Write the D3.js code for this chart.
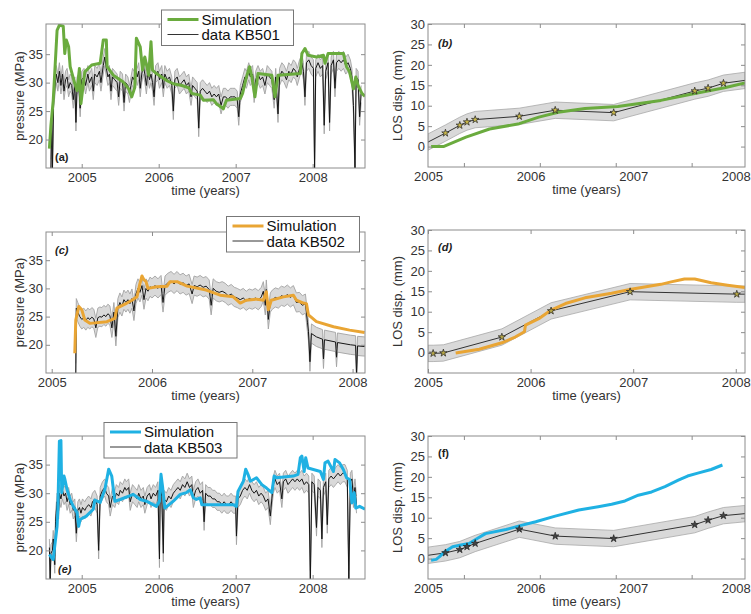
<!DOCTYPE html>
<html>
<head>
<meta charset="utf-8">
<script src="https://cdn.jsdelivr.net/npm/d3@7"></script>
<style>
  body { margin: 0; background: #fff; }
  svg { display: block; font-family: "Liberation Sans", Arial, sans-serif; }
</style>
</head>
<body>
<svg id="fig" width="751" height="614"></svg>
<script>
// ---- data ----
const yearTicks = [2005, 2006, 2007, 2008];
const pressureTicks = [20, 25, 30, 35];
const losTicks = [0, 5, 10, 15, 20, 25, 30];
// panels (b) and (f) have their tick marks away from the year labels
const losMarksBF = [2005.35, 2006.09, 2006.83, 2007.57];

// KB501 well pressure (MPa), [year, value]
const simA = [[2004.58,18.4],[2004.60,22.5],[2004.63,26.9],[2004.68,39.2],[2004.71,40.1],[2004.76,39.9],[2004.78,35.1],[2004.80,37.5],[2004.83,36.3],[2004.85,32.8],[2004.91,29.8],[2004.94,28.6],[2004.97,32.5],[2004.99,26.3],[2005.04,31.9],[2005.13,33.1],[2005.24,33.4],[2005.28,37.5],[2005.32,37.5],[2005.33,32.8],[2005.41,31.3],[2005.54,30.1],[2005.61,28.9],[2005.65,27.5],[2005.69,29.2],[2005.71,37.8],[2005.76,36.3],[2005.79,32.2],[2005.82,34.5],[2005.87,31.3],[2005.90,37.2],[2005.92,32.2],[2005.97,31.6],[2006.10,30.4],[2006.19,29.8],[2006.30,29.5],[2006.39,29.1],[2006.43,28.1],[2006.54,27.8],[2006.58,26.9],[2006.71,27.0],[2006.75,26.3],[2006.84,25.4],[2006.88,26.9],[2007.06,27.2],[2007.09,28.1],[2007.14,31.0],[2007.18,32.8],[2007.21,31.0],[2007.25,27.5],[2007.29,31.6],[2007.47,31.3],[2007.51,27.5],[2007.55,31.3],[2007.84,31.6],[2007.86,35.1],[2007.90,36.0],[2007.94,34.8],[2008.05,34.5],[2008.14,34.8],[2008.16,33.4],[2008.20,35.1],[2008.40,35.1],[2008.44,32.8],[2008.48,31.9],[2008.51,30.1],[2008.53,28.9],[2008.56,31.0],[2008.59,29.5],[2008.64,28.1],[2008.68,27.6]];
const dataA = [[2004.60,15],[2004.61,24],[2004.62,15],[2004.635,27],[2004.65,29],[2004.67,31.5],[2004.69,30],[2004.71,32],[2004.73,29.5],[2004.75,31.5],[2004.77,28.5],[2004.79,30.5],[2004.81,31],[2004.83,29],[2004.85,30],[2004.87,29.5],[2004.89,27],[2004.91,29.5],[2004.925,23],[2004.94,29.5],[2004.96,30],[2004.98,25.5],[2005.00,30.5],[2005.03,31],[2005.05,29.5],[2005.08,31.5],[2005.10,30],[2005.13,31],[2005.15,28.5],[2005.17,31.5],[2005.20,31],[2005.23,32],[2005.25,30],[2005.28,33],[2005.30,34.5],[2005.32,32.5],[2005.34,31],[2005.36,31.5],[2005.38,28.5],[2005.40,31],[2005.43,30.5],[2005.46,30],[2005.48,27.5],[2005.50,30.5],[2005.53,30],[2005.55,26.5],[2005.57,30],[2005.60,29.5],[2005.62,28],[2005.64,29.5],[2005.66,31],[2005.68,30.5],[2005.70,32.5],[2005.72,31],[2005.74,32],[2005.76,29],[2005.78,31.5],[2005.80,33],[2005.82,31.5],[2005.84,29.5],[2005.86,32],[2005.88,30.5],[2005.90,31.5],[2005.92,30],[2005.94,27.5],[2005.96,31.5],[2005.99,32],[2006.01,30.5],[2006.04,31.5],[2006.06,29],[2006.08,31.5],[2006.11,30.5],[2006.14,31],[2006.17,29.5],[2006.19,25],[2006.21,30.5],[2006.24,31],[2006.27,29.5],[2006.30,30],[2006.33,30.5],[2006.36,29.5],[2006.39,30],[2006.42,27.5],[2006.44,29.5],[2006.47,29],[2006.50,28.5],[2006.52,22],[2006.54,28.5],[2006.57,29],[2006.60,28.5],[2006.63,28],[2006.66,28.5],[2006.69,27.5],[2006.72,28],[2006.75,27.5],[2006.78,28],[2006.81,26],[2006.84,27.5],[2006.87,27.5],[2006.90,27],[2006.93,27.5],[2006.96,27.5],[2006.99,27.5],[2007.02,27],[2007.04,24],[2007.06,28],[2007.09,29.5],[2007.12,31],[2007.14,30.5],[2007.17,32],[2007.19,31],[2007.22,31.5],[2007.24,28],[2007.26,30.5],[2007.29,31.5],[2007.32,30.5],[2007.35,31],[2007.38,29.5],[2007.41,31.5],[2007.44,31],[2007.47,30.5],[2007.50,27],[2007.52,31],[2007.55,24.5],[2007.57,31],[2007.60,32],[2007.63,31.5],[2007.66,30.5],[2007.69,32],[2007.72,31.5],[2007.75,32.5],[2007.78,32],[2007.80,31],[2007.83,32.5],[2007.86,33.5],[2007.88,32],[2007.90,27.5],[2007.92,33.5],[2007.95,34],[2007.98,33],[2008.01,32.5],[2008.025,15],[2008.04,32.5],[2008.07,33.5],[2008.10,32.5],[2008.13,33],[2008.15,22.5],[2008.17,32],[2008.20,33.5],[2008.22,23],[2008.24,33],[2008.27,34],[2008.29,29],[2008.31,33.5],[2008.34,34],[2008.37,33.5],[2008.40,34],[2008.43,33],[2008.46,33.5],[2008.49,32.5],[2008.51,31],[2008.53,26],[2008.55,15],[2008.565,31],[2008.59,30.5],[2008.61,24],[2008.63,28]];
const errA = 1.5;

// KB502 well pressure (MPa)
const simC = [[2005.23,18.5],[2005.24,24.4],[2005.27,26.8],[2005.30,26.2],[2005.33,24.4],[2005.38,23.8],[2005.55,24.1],[2005.63,24.7],[2005.65,26.5],[2005.75,27.4],[2005.80,27.9],[2005.85,28.5],[2005.88,30.9],[2005.90,32.2],[2005.92,31.5],[2005.94,31.2],[2005.96,30.0],[2006.05,30.3],[2006.15,30.4],[2006.18,31.2],[2006.25,31.2],[2006.35,30.4],[2006.54,29.7],[2006.68,28.8],[2006.81,28.5],[2006.88,27.4],[2006.94,27.9],[2007.04,28.1],[2007.11,27.9],[2007.14,29.4],[2007.16,26.2],[2007.19,27.9],[2007.31,28.5],[2007.41,28.8],[2007.44,27.9],[2007.51,27.4],[2007.54,27.3],[2007.56,25.3],[2007.64,24.1],[2007.81,23.2],[2007.97,22.6],[2008.12,22.2]];
const dataC = [[2005.24,15],[2005.245,26.5],[2005.26,25.8],[2005.28,25],[2005.30,24.5],[2005.32,24.8],[2005.34,24.3],[2005.36,24.8],[2005.38,24.5],[2005.40,24.9],[2005.42,24.6],[2005.44,23],[2005.46,24.8],[2005.48,25],[2005.50,24.9],[2005.52,25.3],[2005.54,25],[2005.56,25.5],[2005.58,25.2],[2005.60,23],[2005.62,25.8],[2005.64,21.5],[2005.66,26.5],[2005.68,27.5],[2005.70,26.8],[2005.72,28],[2005.74,27.5],[2005.76,28],[2005.78,27.3],[2005.80,28.2],[2005.82,26],[2005.84,29],[2005.86,30],[2005.88,29.3],[2005.90,30.5],[2005.92,28],[2005.94,30],[2005.96,29.5],[2005.98,30.3],[2006.00,30],[2006.03,30.5],[2006.06,30],[2006.09,30.6],[2006.11,27.5],[2006.13,30.5],[2006.16,31],[2006.19,31.3],[2006.22,30.8],[2006.25,31.3],[2006.28,30.7],[2006.31,31],[2006.34,30.5],[2006.37,30.8],[2006.40,29],[2006.42,30.5],[2006.45,30.3],[2006.48,30.6],[2006.51,30.2],[2006.54,30.4],[2006.57,29.8],[2006.59,27],[2006.61,30],[2006.64,29.5],[2006.67,29.3],[2006.70,29.5],[2006.73,29.2],[2006.76,28.7],[2006.79,29],[2006.82,28.5],[2006.85,28.3],[2006.88,28],[2006.91,28.3],[2006.94,27.8],[2006.97,28.2],[2007.00,28],[2007.03,28.3],[2007.06,27.9],[2007.09,28.5],[2007.11,29.5],[2007.13,27],[2007.14,29.8],[2007.16,24.5],[2007.18,27.5],[2007.20,28],[2007.23,28.4],[2007.26,28.2],[2007.29,28.7],[2007.32,28.5],[2007.35,28.9],[2007.38,28.4],[2007.41,28.8],[2007.44,27.5],[2007.47,27.6],[2007.50,27],[2007.53,27.3],[2007.55,24],[2007.56,22.4],[2007.575,17],[2007.59,22],[2007.64,21.4],[2007.70,21],[2007.71,17.5],[2007.72,20.9],[2007.83,20.5],[2007.84,17.8],[2007.85,20.4],[2007.98,20],[2008.03,19.9],[2008.04,15],[2008.05,19.8],[2008.12,19.7]];
const errC = 1.7;

// KB503 well pressure (MPa)
const simE = [[2004.58,19.3],[2004.61,18.7],[2004.63,18.4],[2004.65,20.8],[2004.68,24.2],[2004.69,27.2],[2004.71,39.1],[2004.73,39.2],[2004.74,30.1],[2004.77,33.0],[2004.78,32.5],[2004.81,30.6],[2004.85,28.9],[2004.89,27.7],[2004.94,26.6],[2004.96,24.2],[2004.98,25.4],[2005.06,26.0],[2005.15,27.2],[2005.17,28.8],[2005.24,28.4],[2005.30,30.6],[2005.35,34.2],[2005.39,33.0],[2005.43,28.6],[2005.50,28.9],[2005.67,29.8],[2005.76,28.9],[2005.84,28.6],[2005.97,27.7],[2006.01,28.6],[2006.03,33.3],[2006.05,31.2],[2006.08,27.4],[2006.19,28.6],[2006.28,29.8],[2006.36,30.1],[2006.41,30.6],[2006.45,29.2],[2006.49,28.9],[2006.54,29.2],[2006.56,28.0],[2006.62,28.0],[2006.97,28.0],[2007.01,27.7],[2007.03,30.3],[2007.10,32.1],[2007.13,34.2],[2007.16,33.3],[2007.19,32.1],[2007.27,32.7],[2007.34,31.5],[2007.40,30.9],[2007.47,30.1],[2007.50,33.0],[2007.53,32.7],[2007.75,33.0],[2007.81,33.3],[2007.84,36.2],[2007.86,36.5],[2007.89,33.8],[2007.91,36.2],[2007.94,34.4],[2008.10,33.8],[2008.14,32.4],[2008.16,35.3],[2008.20,35.6],[2008.27,33.8],[2008.29,35.9],[2008.35,35.3],[2008.40,34.1],[2008.44,32.7],[2008.48,32.4],[2008.51,28.3],[2008.54,30.1],[2008.56,27.4],[2008.61,27.7],[2008.68,27.2]];
const dataE = [[2004.58,20.5],[2004.59,15],[2004.60,19.5],[2004.62,20],[2004.63,22],[2004.65,17.5],[2004.66,25],[2004.68,28.5],[2004.70,27],[2004.71,30],[2004.73,29],[2004.75,30.5],[2004.77,29.5],[2004.79,30],[2004.81,28.5],[2004.83,29.5],[2004.85,28],[2004.87,28.5],[2004.89,27],[2004.91,27.5],[2004.93,23],[2004.95,27],[2004.97,27.5],[2004.99,26.5],[2005.01,27.5],[2005.04,27],[2005.06,27.5],[2005.09,28],[2005.12,27.5],[2005.14,28.5],[2005.17,29],[2005.20,28],[2005.22,20],[2005.24,29.5],[2005.27,30.5],[2005.30,31],[2005.32,30],[2005.35,29.5],[2005.37,27.5],[2005.40,29.5],[2005.43,29],[2005.45,30],[2005.48,29.5],[2005.50,30.5],[2005.53,30],[2005.56,31],[2005.58,30.5],[2005.61,31],[2005.63,28.5],[2005.66,30],[2005.69,29.5],[2005.72,29],[2005.74,30],[2005.77,29],[2005.80,29.5],[2005.82,28],[2005.85,29.5],[2005.88,30],[2005.90,29],[2005.93,30],[2005.96,29.5],[2005.99,30.5],[2006.01,18.5],[2006.02,31],[2006.04,29.5],[2006.06,19.5],[2006.07,29],[2006.10,28.5],[2006.13,29.5],[2006.16,29],[2006.19,30],[2006.22,30.5],[2006.25,31],[2006.28,30.5],[2006.31,31.5],[2006.34,31],[2006.37,32],[2006.40,31],[2006.43,31.5],[2006.45,29],[2006.48,30.5],[2006.51,31],[2006.54,30],[2006.57,30.5],[2006.59,25],[2006.61,30],[2006.64,29.5],[2006.67,29.5],[2006.70,29],[2006.73,29],[2006.76,28.5],[2006.79,28.5],[2006.82,28],[2006.85,28.5],[2006.88,28],[2006.91,28],[2006.94,28.5],[2006.97,28],[2007.00,28],[2007.01,22.5],[2007.03,29],[2007.06,29.5],[2007.09,30.5],[2007.12,31],[2007.15,30.5],[2007.18,31.5],[2007.21,30.5],[2007.24,30],[2007.27,30.5],[2007.30,29.5],[2007.33,30],[2007.36,29.5],[2007.39,28.5],[2007.42,29],[2007.45,26],[2007.47,29],[2007.49,31.5],[2007.51,32.5],[2007.54,31.5],[2007.57,32],[2007.60,29],[2007.62,32],[2007.65,32.5],[2007.68,31.5],[2007.71,32],[2007.74,32.5],[2007.77,32],[2007.80,32.5],[2007.83,32],[2007.86,32.5],[2007.89,31.5],[2007.92,32],[2007.95,31.5],[2007.97,15],[2007.99,32],[2008.02,31.5],[2008.05,24],[2008.07,31],[2008.10,30.5],[2008.12,22],[2008.14,31],[2008.17,32],[2008.19,24.5],[2008.21,32.5],[2008.24,33],[2008.27,32.5],[2008.30,33],[2008.33,33.5],[2008.36,33],[2008.39,33.5],[2008.42,33.5],[2008.45,32.5],[2008.47,15],[2008.49,32],[2008.51,32.5],[2008.53,29],[2008.55,31],[2008.57,28]];
const errE = 1.5;

// InSAR LOS displacement (mm): [year, value, star marker 1/0]
const losObsB = [[2005.00,1.1,0],[2005.17,3.3,1],[2005.31,5.2,1],[2005.38,6.0,1],[2005.46,6.6,1],[2005.89,7.4,1],[2006.24,8.9,1],[2006.81,8.3,1],[2007.60,13.6,1],[2007.73,14.3,1],[2007.88,15.5,1],[2008.09,16.2,0]];
const losSimB = [[2005.03,0],[2005.15,0],[2005.37,2.3],[2005.60,4.3],[2005.89,5.6],[2006.08,7.2],[2006.27,8.4],[2006.53,9.3],[2006.85,9.8],[2007.27,11.3],[2007.60,13.0],[2007.89,14.4],[2008.09,15.6]];
const losObsD = [[2005.00,-0.2,0],[2005.05,-0.2,1],[2005.15,-0.1,1],[2005.72,3.8,1],[2006.20,10.2,1],[2006.97,14.9,1],[2008.01,14.3,1],[2008.09,14.3,0]];
const losSimD = [[2005.27,-0.1],[2005.50,0.8],[2005.72,2.4],[2005.85,3.8],[2005.94,5.1],[2005.95,6.7],[2006.08,8.3],[2006.20,10.4],[2006.34,12.0],[2006.53,13.4],[2006.79,14.5],[2006.98,15.5],[2007.27,16.7],[2007.37,17.3],[2007.50,18.0],[2007.60,18.0],[2007.76,17.1],[2007.92,16.5],[2008.09,15.9]];
const losObsF = [[2005.00,0.8,0],[2005.17,1.4,1],[2005.31,2.2,1],[2005.38,2.9,1],[2005.46,3.7,1],[2005.89,7.2,1],[2006.24,5.5,1],[2006.81,4.9,1],[2007.60,8.3,1],[2007.73,9.4,1],[2007.88,10.5,1],[2008.09,11.0,0]];
const losSimF = [[2005.03,-0.4],[2005.08,-0.2],[2005.11,0.4],[2005.16,1.6],[2005.24,2.9],[2005.32,3.3],[2005.40,3.7],[2005.48,4.9],[2005.56,6.1],[2005.76,7.1],[2005.89,8.0],[2006.05,9.0],[2006.24,10.4],[2006.47,11.9],[2006.66,12.7],[2006.79,13.3],[2006.92,14.1],[2007.05,15.5],[2007.18,16.3],[2007.31,17.6],[2007.44,19.2],[2007.53,20.2],[2007.63,20.9],[2007.76,21.8],[2007.87,22.9]];
const losErr = 2;

const colors = { green: '#6aab3e', orange: '#e9a534', cyan: '#1fb1e3' };

// ---- drawing ----
const svg = d3.select('#fig');
const AXIS = '#8c8c8c';
const TEXT = '#333';

function frame(g, p, x, y, opts) {
  const w = p.right - p.left;
  const h = p.bottom - p.top;

  g.append('g').attr('transform', `translate(0,${h})`)
    .call(d3.axisBottom(x).tickValues(yearTicks).tickFormat(d3.format('d'))
      .tickSizeInner(opts.xMarks ? 0 : -4).tickSizeOuter(0).tickPadding(5));
  g.append('g')
    .call(d3.axisTop(x).tickValues(opts.xMarks || yearTicks).tickFormat('')
      .tickSizeInner(-4).tickSizeOuter(0));
  if (opts.xMarks) {
    g.append('g').attr('transform', `translate(0,${h})`)
      .call(d3.axisBottom(x).tickValues(opts.xMarks).tickFormat('')
        .tickSizeInner(-4).tickSizeOuter(0));
  }
  g.append('g')
    .call(d3.axisLeft(y).tickValues(opts.yTicks).tickSizeInner(-4).tickSizeOuter(0).tickPadding(3));
  g.append('g').attr('transform', `translate(${w},0)`)
    .call(d3.axisRight(y).tickValues(opts.yTicks).tickFormat('').tickSizeInner(-4).tickSizeOuter(0));

  // let the axes use the page font
  g.selectAll('g').attr('font-family', null).attr('font-size', null);
  g.selectAll('.domain').remove();
  g.selectAll('.tick line').attr('stroke', AXIS);
  g.selectAll('.tick text').attr('fill', TEXT).style('font-size', '13px');

  g.append('rect').attr('width', w).attr('height', h)
    .attr('fill', 'none').attr('stroke', AXIS).attr('stroke-width', 1);

  g.append('text')
    .attr('x', w / 2).attr('y', h + 27)
    .attr('text-anchor', 'middle').attr('fill', TEXT).style('font-size', '13px')
    .text('time (years)');
  g.append('text')
    .attr('transform', `translate(${opts.yTitleX},${h / 2}) rotate(-90)`)
    .attr('text-anchor', 'middle').attr('fill', TEXT).style('font-size', '13px')
    .text(opts.yTitle);

  g.append('text')
    .attr('x', opts.tag[0]).attr('y', opts.tag[1])
    .attr('fill', '#222').style('font-size', '11px').style('font-weight', 'bold')
    .style('font-style', opts.tagItalic ? 'italic' : 'normal')
    .text(opts.tagText);
}

function clip(g, id, w, h) {
  g.append('clipPath').attr('id', id).append('rect').attr('width', w).attr('height', h);
  return g.append('g').attr('clip-path', `url(#${id})`);
}

function pressurePanel(p, cfg) {
  const w = p.right - p.left;
  const h = p.bottom - p.top;
  const x = d3.scaleLinear().domain(cfg.xDomain).range([0, w]);
  const y = d3.scaleLinear().domain(cfg.yDomain).range([h, 0]);
  const g = svg.append('g').attr('transform', `translate(${p.left},${p.top})`);
  const c = clip(g, cfg.id, w, h);

  const band = d3.area().x(d => x(d[0])).y0(d => y(d[1] - cfg.err)).y1(d => y(d[1] + cfg.err));
  const line = d3.line().x(d => x(d[0])).y(d => y(d[1]));
  c.append('path').datum(cfg.data).attr('d', band).attr('fill', '#d9d9d9');
  c.append('path').datum(cfg.data.map(d => [d[0], d[1] + cfg.err])).attr('d', line)
    .attr('fill', 'none').attr('stroke', '#a3a3a3').attr('stroke-width', 0.9);
  c.append('path').datum(cfg.data.map(d => [d[0], d[1] - cfg.err])).attr('d', line)
    .attr('fill', 'none').attr('stroke', '#a3a3a3').attr('stroke-width', 0.9);
  c.append('path').datum(cfg.data).attr('d', line)
    .attr('fill', 'none').attr('stroke', '#151515').attr('stroke-width', 1);
  c.append('path').datum(cfg.sim).attr('d', line)
    .attr('fill', 'none').attr('stroke', cfg.color).attr('stroke-width', 3)
    .attr('stroke-linejoin', 'round');

  frame(g, p, x, y, {
    yTicks: pressureTicks, yTitle: 'pressure (MPa)', yTitleX: -22,
    tag: cfg.tag, tagText: cfg.tagText, tagItalic: cfg.tagItalic
  });

  // legend
  const L = cfg.legend;
  const lg = svg.append('g').attr('transform', `translate(${L.x},${L.y})`);
  lg.append('rect').attr('width', L.w).attr('height', 35.5)
    .attr('fill', '#fff').attr('stroke', '#777').attr('stroke-width', 1);
  lg.append('line').attr('x1', 6).attr('x2', 37).attr('y1', 9.5).attr('y2', 9.5)
    .attr('stroke', cfg.color).attr('stroke-width', 3);
  lg.append('line').attr('x1', 6).attr('x2', 37).attr('y1', 24.5).attr('y2', 24.5)
    .attr('stroke', '#333').attr('stroke-width', 1);
  lg.append('text').attr('x', 40).attr('y', 14.5).style('font-size', '15px').attr('fill', '#111')
    .text('Simulation');
  lg.append('text').attr('x', 40).attr('y', 30).style('font-size', '15px').attr('fill', '#111')
    .text(cfg.well);
}

function losPanel(p, cfg) {
  const w = p.right - p.left;
  const h = p.bottom - p.top;
  const x = d3.scaleLinear().domain([2005, 2008.09]).range([0, w]);
  const y = d3.scaleLinear().domain([-5, 30]).range([h, 0]);
  const g = svg.append('g').attr('transform', `translate(${p.left},${p.top})`);
  const c = clip(g, cfg.id, w, h);

  const band = d3.area().x(d => x(d[0])).y0(d => y(d[1] - losErr)).y1(d => y(d[1] + losErr));
  const line = d3.line().x(d => x(d[0])).y(d => y(d[1]));
  c.append('path').datum(cfg.obs).attr('d', band)
    .attr('fill', '#d9d9d9').attr('stroke', '#a8a8a8').attr('stroke-width', 0.8);
  c.append('path').datum(cfg.obs).attr('d', line)
    .attr('fill', 'none').attr('stroke', '#333').attr('stroke-width', 1);
  c.append('path').datum(cfg.sim).attr('d', line)
    .attr('fill', 'none').attr('stroke', cfg.color).attr('stroke-width', 3)
    .attr('stroke-linejoin', 'round');
  c.selectAll('path.star').data(cfg.obs.filter(d => d[2])).join('path')
    .attr('class', 'star')
    .attr('transform', d => `translate(${x(d[0])},${y(d[1])})`)
    .attr('d', d3.symbol(d3.symbolStar, 17))
    .attr('fill', cfg.starFill).attr('stroke', '#222').attr('stroke-width', 0.7);

  frame(g, p, x, y, {
    yTicks: losTicks, yTitle: 'LOS disp. (mm)', yTitleX: -26, xMarks: cfg.xMarks,
    tag: [10, cfg.tagY], tagText: cfg.tagText, tagItalic: cfg.tagItalic
  });
}

const L = { left: 46, right: 365 };
const R = { left: 428, right: 745 };

pressurePanel({ ...L, top: 24, bottom: 168 }, {
  id: 'ca', xDomain: [2004.536, 2008.68], yDomain: [15, 40.3],
  data: dataA, sim: simA, err: errA, color: colors.green, well: 'data KB501',
  tag: [9, 137], tagText: '(a)', tagItalic: false,
  legend: { x: 161.5, y: 10, w: 132 }
});
losPanel({ ...R, top: 24, bottom: 167 }, {
  id: 'cb', obs: losObsB, sim: losSimB, color: colors.green, starFill: '#c9b84a',
  xMarks: losMarksBF, tagY: 23, tagText: '(b)', tagItalic: true
});
pressurePanel({ ...L, top: 232, bottom: 373 }, {
  id: 'cc', xDomain: [2004.943, 2008.124], yDomain: [15, 40],
  data: dataC, sim: simC, err: errC, color: colors.orange, well: 'data KB502',
  tag: [9, 22], tagText: '(c)', tagItalic: true,
  legend: { x: 226.5, y: 216.5, w: 133 }
});
losPanel({ ...R, top: 230, bottom: 373 }, {
  id: 'cd', obs: losObsD, sim: losSimD, color: colors.orange, starFill: '#b7a746',
  xMarks: null, tagY: 21, tagText: '(d)', tagItalic: true
});
pressurePanel({ ...L, top: 436, bottom: 579 }, {
  id: 'ce', xDomain: [2004.536, 2008.68], yDomain: [15, 40],
  data: dataE, sim: simE, err: errE, color: colors.cyan, well: 'data KB503',
  tag: [12, 137], tagText: '(e)', tagItalic: true,
  legend: { x: 104, y: 422.5, w: 133 }
});
losPanel({ ...R, top: 436, bottom: 579 }, {
  id: 'cf', obs: losObsF, sim: losSimF, color: colors.cyan, starFill: '#444',
  xMarks: losMarksBF, tagY: 21, tagText: '(f)', tagItalic: false
});
</script>
</body>
</html>
